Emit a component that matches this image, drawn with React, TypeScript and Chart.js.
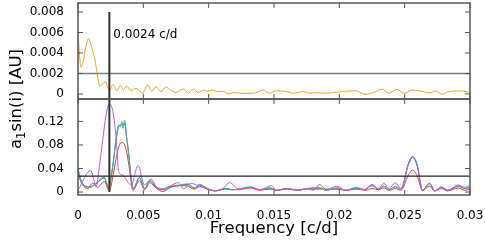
import { useEffect, useRef } from 'react';
import { Chart, registerables } from 'chart.js';
Chart.register(...registerables);

const FONT = '"DejaVu Sans", sans-serif';

// ---- axes ----
const xTicks = [0, 0.005, 0.01, 0.015, 0.02, 0.025, 0.03];
const xTickLabels = ['0', '0.005', '0.01', '0.015', '0.02', '0.025', '0.03'];
const topTicks = [0, 0.002, 0.004, 0.006, 0.008];
const topTickLabels = ['0', '0.002', '0.004', '0.006', '0.008'];
const botTicks = [0, 0.04, 0.08, 0.12];
const botTickLabels = ['0', '0.04', '0.08', '0.12'];
const xTitle = 'Frequency [c/d]';
const yTitleMain = 'a';
const yTitleSub = '1';
const yTitleRest = 'sin(i) [AU]';

// ---- annotations ----
const markerFreq = 0.0024;
const markerLabel = '0.0024 c/d';
const markerTopValue = 0.008;
const markerBottomValue = 0;
const markerLabelLevel = 0.0055;
const topThreshold = 0.002;
const botThreshold = 0.027;

// ---- top panel (orange) ----
const topFreq = [0, 0.00023, 0.0008, 0.00095, 0.00117, 0.0013, 0.00168, 0.0021, 0.0024, 0.0027,
  0.00296, 0.00324, 0.00347, 0.00372, 0.00406, 0.00444, 0.00495, 0.00533, 0.00566, 0.00597,
  0.00635, 0.00673, 0.00712, 0.0075, 0.00806, 0.00844, 0.00883, 0.0092, 0.0096, 0.0099,
  0.01023, 0.01074, 0.01112, 0.0115, 0.01189, 0.01253, 0.0134, 0.01418, 0.01464, 0.0152,
  0.01584, 0.01648, 0.01724, 0.01775, 0.01827, 0.0189, 0.02018, 0.0212, 0.02196, 0.0226,
  0.02324, 0.0238, 0.02439, 0.02497, 0.02554, 0.0263, 0.02694, 0.02737, 0.02788, 0.02834,
  0.0291, 0.02962, 0.03];
const topVal = [0.0059, 0.0026, 0.0054, 0.005, 0.004, 0.0033, 0.00078, 0.0012, 0.0003, 0.00095,
  0.00032, 0.00085, 0.00039, 0.00078, 0.00032, 0.00055, 0.00007, 0.00088, 0.00023, 0.0007,
  0.00023, 0.0007, 0.00035, 0.00015, 0.00049, 0.00007, 0.00049, 0.00013, 0.00039, 0.00026,
  0.00039, 0.00023, 0.00026, 0.0, 0.00013, 0.00007, 0.00007, 0.00039, 0.00007, 0.00032,
  0.00026, 0.00007, 0.00023, 0.00007, 0.00015, 0.00007, 0.00023, 0.00032, -0.00003, 0.00013,
  0.00046, 0.00007, 0.00046, 0.00007, 0.00039, 0.00026, 0.00013, 0.0003, -0.00003, 0.00023,
  0.0003, 0.00026, 0.00013];

// ---- bottom panel ----
const purpleFreq = [0, 0.00097, 0.0014, 0.00163, 0.00189, 0.00214, 0.0024, 0.00265, 0.00286, 0.003,
  0.0031, 0.0034, 0.0036, 0.00406, 0.0046, 0.00508, 0.0056, 0.006, 0.0065, 0.007,
  0.0077, 0.0081, 0.0086, 0.0093, 0.01, 0.0105, 0.0111, 0.0116, 0.0123, 0.0132,
  0.0139, 0.0148, 0.0152, 0.016, 0.0168, 0.0175, 0.018, 0.0185, 0.019, 0.0198,
  0.0205, 0.0213, 0.022, 0.0225, 0.023, 0.0234, 0.0238, 0.0243, 0.0247, 0.0249,
  0.0252, 0.0256, 0.026, 0.0262, 0.02635, 0.0269, 0.0273, 0.0278, 0.0283, 0.0291,
  0.0296, 0.03];
const purpleVal = [0.003, 0.037, 0.009, 0.042, 0.088, 0.13, 0.15, 0.139, 0.105, 0.066,
  0.035, 0.029, 0.024, 0.012, 0.045, 0.012, 0.022, 0.009, 0.006, 0.01,
  0.016, 0.005, 0.015, 0.01, 0.005, 0.002, 0.006, 0.016, 0.005, 0.008,
  0.004, 0.011, 0.003, 0.006, 0.003, 0.006, 0.003, 0.013, 0.004, 0.01,
  0.003, 0.008, 0.004, 0.013, 0.005, 0.015, 0.006, 0.016, 0.006, 0.013,
  0.042, 0.06, 0.042, 0.016, 0.003, 0.015, 0.002, 0.009, 0.003, 0.012,
  0.008, 0.011];

const greenFreq = [0, 0.00023, 0.0005, 0.0009, 0.00138, 0.0018, 0.002, 0.0022, 0.00235, 0.00265,
  0.0029, 0.0031, 0.00324, 0.00337, 0.00344, 0.00357, 0.00372, 0.00388, 0.00406, 0.00423,
  0.0047, 0.0051, 0.0055, 0.006, 0.0065, 0.0071, 0.0078, 0.0084, 0.0089, 0.0093,
  0.01, 0.0105, 0.0113, 0.0118, 0.0123, 0.0132, 0.0139, 0.0147, 0.0152, 0.016,
  0.0168, 0.0175, 0.0185, 0.019, 0.0198, 0.0205, 0.0213, 0.0219, 0.0225, 0.023,
  0.0234, 0.0238, 0.0243, 0.0247, 0.0249, 0.0252, 0.0256, 0.026, 0.0262, 0.02635,
  0.0269, 0.0273, 0.0278, 0.0283, 0.0291, 0.0296, 0.03];
const greenVal = [0.04, 0.02, 0.01, 0.008, 0.015, 0.024, 0.026, 0.015, 0.008, 0.043,
  0.088, 0.114, 0.111, 0.12, 0.108, 0.122, 0.094, 0.066, 0.026, 0.006,
  0.025, 0.006, 0.02, 0.008, 0.004, 0.01, 0.012, 0.014, 0.007, 0.013,
  0.005, 0.002, 0.006, 0.004, 0.005, 0.009, 0.004, 0.007, 0.003, 0.006,
  0.003, 0.006, 0.007, 0.003, 0.007, 0.003, 0.006, 0.004, 0.012, 0.005,
  0.01, 0.004, 0.009, 0.005, 0.012, 0.04, 0.058, 0.04, 0.015, 0.003,
  0.015, 0.002, 0.008, 0.003, 0.01, 0.006, 0.008];
const blueVal = [0.036, 0.02, 0.011, 0.009, 0.014, 0.022, 0.024, 0.014, 0.007, 0.042,
  0.086, 0.11, 0.113, 0.116, 0.114, 0.117, 0.092, 0.064, 0.025, 0.006,
  0.024, 0.006, 0.019, 0.008, 0.004, 0.009, 0.011, 0.013, 0.006, 0.012,
  0.005, 0.002, 0.006, 0.004, 0.005, 0.008, 0.004, 0.007, 0.003, 0.006,
  0.003, 0.006, 0.007, 0.003, 0.007, 0.003, 0.006, 0.004, 0.011, 0.005,
  0.01, 0.004, 0.009, 0.005, 0.013, 0.042, 0.06, 0.042, 0.016, 0.003,
  0.014, 0.002, 0.008, 0.003, 0.01, 0.006, 0.008];

const redFreq = [0, 0.00036, 0.00074, 0.00112, 0.0015, 0.002, 0.0024, 0.0027, 0.0029, 0.0031,
  0.0033, 0.0035, 0.0037, 0.0039, 0.0041, 0.0042, 0.0047, 0.0051, 0.0055, 0.006,
  0.0065, 0.0071, 0.0078, 0.0084, 0.0089, 0.0093, 0.01, 0.0105, 0.0113, 0.0118,
  0.0123, 0.0132, 0.0139, 0.0147, 0.0152, 0.016, 0.0168, 0.0175, 0.0185, 0.0198,
  0.0205, 0.0213, 0.022, 0.0225, 0.023, 0.0234, 0.0238, 0.0243, 0.0247, 0.0249,
  0.0252, 0.0256, 0.026, 0.0262, 0.02635, 0.0269, 0.0273, 0.0278, 0.0283, 0.0291,
  0.0296, 0.03];
const redVal = [0.029, 0.012, 0.006, 0.015, 0.008, 0.018, 0.002, 0.03, 0.055, 0.075,
  0.084, 0.083, 0.07, 0.045, 0.012, 0.003, 0.019, 0.004, 0.016, 0.006,
  0.001, 0.008, 0.011, 0.01, 0.005, 0.009, 0.004, 0.002, 0.005, 0.004,
  0.004, 0.007, 0.003, 0.005, 0.003, 0.005, 0.003, 0.005, 0.005, 0.005,
  0.003, 0.005, 0.003, 0.006, 0.004, 0.007, 0.003, 0.006, 0.003, 0.008,
  0.025, 0.037, 0.025, 0.01, 0.002, 0.01, 0.002, 0.006, 0.002, 0.007,
  0.003, 0.005];

export default function App() {
  const ref = useRef<HTMLCanvasElement>(null);

  useEffect(() => {
    if (!ref.current) return;
    const pts = (xs: number[], ys: number[]) => xs.map((x, i) => ({ x, y: ys[i] }));
    const ds = (label: string, xs: number[], ys: number[], color: string, yAxisID: string) => ({
      label, data: pts(xs, ys), borderColor: color, backgroundColor: color,
      borderWidth: 1, pointRadius: 0, fill: false,
      cubicInterpolationMode: 'monotone' as const, xAxisID: 'x', yAxisID,
    });

    const TL = 5;
    const gnuFrame = {
      id: 'gnuFrame',
      afterDatasetsDraw(chart: any) {
        const ctx = chart.ctx as CanvasRenderingContext2D;
        const x = chart.scales.x, yt = chart.scales.yTop, yb = chart.scales.yBot;
        const L = x.left, R = x.right;
        const line = (a: number, b: number, c: number, d: number) => {
          ctx.beginPath(); ctx.moveTo(a, b); ctx.lineTo(c, d); ctx.stroke();
        };
        ctx.save();
        // thresholds
        ctx.lineWidth = 1.5; ctx.strokeStyle = '#808080';
        let p = yt.getPixelForValue(topThreshold);
        line(L, p, R, p);
        ctx.lineWidth = 1.2; ctx.strokeStyle = '#222';
        p = yb.getPixelForValue(botThreshold);
        line(L, p, R, p);
        // marker
        const mx = x.getPixelForValue(markerFreq);
        ctx.lineWidth = 2; ctx.strokeStyle = '#333';
        line(mx, yt.getPixelForValue(markerTopValue), mx, yb.getPixelForValue(markerBottomValue));
        // frames and inward ticks
        for (const ys of [yt, yb]) {
          ctx.lineWidth = 1.5; ctx.strokeStyle = '#555';
          ctx.strokeRect(L, ys.top, R - L, ys.bottom - ys.top);
          ctx.lineWidth = 1; ctx.strokeStyle = '#555';
          for (const t of x.ticks) {
            const px = x.getPixelForValue(t.value);
            line(px, ys.top, px, ys.top + TL);
            line(px, ys.bottom, px, ys.bottom - TL);
          }
          for (const t of ys.ticks) {
            const py = ys.getPixelForValue(t.value);
            line(L, py, L + TL, py);
            line(R, py, R - TL, py);
          }
        }
        // marker label
        ctx.fillStyle = '#000';
        ctx.font = `12px ${FONT}`;
        ctx.textAlign = 'left'; ctx.textBaseline = 'alphabetic';
        ctx.fillText(markerLabel, mx + 4, yt.getPixelForValue(markerLabelLevel));
        // y title (rotated)
        const big = `16.5px ${FONT}`, small = `11.5px ${FONT}`;
        ctx.font = big; const w1 = ctx.measureText(yTitleMain).width;
        const w3 = ctx.measureText(yTitleRest).width;
        ctx.font = small; const w2 = ctx.measureText(yTitleSub).width;
        const total = w1 + w2 + w3;
        ctx.translate(21, (yt.top + yb.bottom) / 2);
        ctx.rotate(-Math.PI / 2);
        let cx = -total / 2;
        ctx.font = big; ctx.fillText(yTitleMain, cx, 0); cx += w1;
        ctx.font = small; ctx.fillText(yTitleSub, cx, 4); cx += w2;
        ctx.font = big; ctx.fillText(yTitleRest, cx, 0);
        ctx.restore();
      },
    };

    const tickFont = { family: FONT, size: 12 };
    const fitY = (s: any) => { s.width = 78; s.paddingTop = 0; s.paddingBottom = 0; };
    const chart = new Chart(ref.current, {
      type: 'line',
      data: {
        datasets: [
          ds('orange', topFreq, topVal, '#eaa52a', 'yTop'),
          ds('purple', purpleFreq, purpleVal, '#b060e8', 'yBot'),
          ds('green', greenFreq, greenVal, '#3cb48f', 'yBot'),
          ds('red', redFreq, redVal, '#e8362a', 'yBot'),
          ds('blue', greenFreq, blueVal, '#4a50d8', 'yBot'),
        ],
      },
      options: {
        responsive: false,
        animation: false,
        events: [],
        layout: { padding: { top: 3, right: 15, left: 0, bottom: 0 } },
        plugins: { legend: { display: false }, tooltip: { enabled: false } },
        scales: {
          x: {
            type: 'linear', position: 'bottom', min: 0, max: 0.03,
            afterBuildTicks: (s: any) => { s.ticks = xTicks.map((v) => ({ value: v })); },
            afterFit: (s: any) => { s.height = 47; s.paddingLeft = 0; s.paddingRight = 0; },
            ticks: {
              callback: (_v: any, i: number) => xTickLabels[i],
              font: tickFont, color: '#000', padding: 6, autoSkip: false, maxRotation: 0,
            },
            grid: { display: false }, border: { display: false },
            title: {
              display: true, text: xTitle, color: '#000',
              font: { family: FONT, size: 16.5 }, padding: { top: 0, bottom: 3 },
            },
          },
          yBot: {
            type: 'linear', position: 'left', stack: 'panels', stackWeight: 1,
            min: -0.005, max: 0.158,
            afterBuildTicks: (s: any) => { s.ticks = botTicks.map((v) => ({ value: v })); },
            afterFit: fitY,
            ticks: {
              callback: (_v: any, i: number) => botTickLabels[i],
              font: tickFont, color: '#000', padding: 6, autoSkip: false,
            },
            grid: { display: false }, border: { display: false },
          },
          yTop: {
            type: 'linear', position: 'left', stack: 'panels', stackWeight: 1,
            min: -0.00049, max: 0.00888,
            afterBuildTicks: (s: any) => { s.ticks = topTicks.map((v) => ({ value: v })); },
            afterFit: fitY,
            ticks: {
              callback: (_v: any, i: number) => topTickLabels[i],
              font: tickFont, color: '#000', padding: 6, autoSkip: false,
            },
            grid: { display: false }, border: { display: false },
          },
        },
      } as any,
      plugins: [gnuFrame],
    });
    return () => chart.destroy();
  }, []);

  return (
    <canvas
      ref={ref}
      width={485}
      height={242}
      style={{ position: 'fixed', left: 0, top: 0, display: 'block', background: '#fff' }}
    />
  );
}
